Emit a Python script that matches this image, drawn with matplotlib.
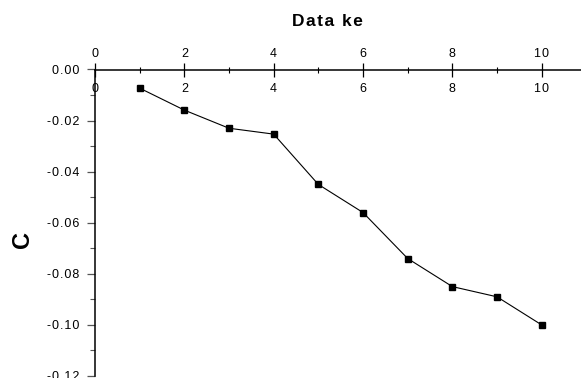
import matplotlib
matplotlib.use("Agg")
import matplotlib.pyplot as plt
import matplotlib.transforms as mtransforms
from matplotlib.ticker import MultipleLocator, FuncFormatter

plt.rcParams['font.family'] = ['Liberation Sans', 'DejaVu Sans']
plt.rcParams['axes.unicode_minus'] = False

x_vals = [1, 2, 3, 4, 5, 6, 7, 8, 9, 10]
c_vals = [-0.0073, -0.0159, -0.0230, -0.0253, -0.0450, -0.0560,
          -0.0740, -0.0850, -0.0890, -0.1000]
x_ticks = [0, 2, 4, 6, 8, 10]
title_text = "Data ke"
ylabel_text = "C"

HS = '\u200a'


def spaced(s):
    return HS.join(s)


W, H = 581, 378
fig = plt.figure(figsize=(W / 100, H / 100), dpi=100)
left = 95 / W
bottom = 1 - 376 / H
height = (376 - 69.5) / H
ax = fig.add_axes([left, bottom, 1 - left, height])

ax.plot(x_vals, c_vals, color='black', lw=0.8, marker='s', ms=5,
        mfc='black', mec='black', clip_on=False)

ax.set_xlim(0, 10.88)
ax.set_ylim(-0.12, 0.0)

for s in ['bottom', 'right']:
    ax.spines[s].set_visible(False)
ax.spines['top'].set_linewidth(1.1)
ax.spines['left'].set_linewidth(1.1)

ax.xaxis.tick_top()
ax.xaxis.set_major_locator(MultipleLocator(2))
ax.xaxis.set_minor_locator(MultipleLocator(1))
ax.xaxis.set_major_formatter(FuncFormatter(lambda v, p: spaced('%d' % round(v))))
ax.tick_params(axis='x', which='major', direction='inout', length=10, width=0.9,
               labelsize=9, pad=2, top=True, bottom=False)
ax.tick_params(axis='x', which='minor', direction='inout', length=4.5, width=0.8,
               top=True, bottom=False)

ax.yaxis.set_major_locator(MultipleLocator(0.02))
ax.yaxis.set_minor_locator(MultipleLocator(0.01))
ax.yaxis.set_major_formatter(FuncFormatter(lambda v, p: spaced('%.2f' % v)))
ax.tick_params(axis='y', which='major', direction='out', length=6, width=0.9,
               labelsize=9, pad=5, color='#555555')
ax.tick_params(axis='y', which='minor', direction='out', length=3.6, width=0.8,
               color='#555555')

# duplicate tick labels below the top axis line
trans = mtransforms.offset_copy(ax.get_xaxis_transform(), fig=fig, x=0, y=-9.5, units='points')
for t in x_ticks:
    ax.text(t, 1.0, spaced(str(t)), transform=trans, ha='center', va='top', fontsize=9)

fig.text(327 / W, 1 - 22 / H, spaced(title_text), ha='center', va='center',
         fontsize=12.5, fontweight='bold')
fig.text(22 / W, 1 - 239 / H, ylabel_text, ha='center', va='center',
         fontsize=17, fontweight='bold', rotation=90)

fig.savefig('out.png', dpi=100)
